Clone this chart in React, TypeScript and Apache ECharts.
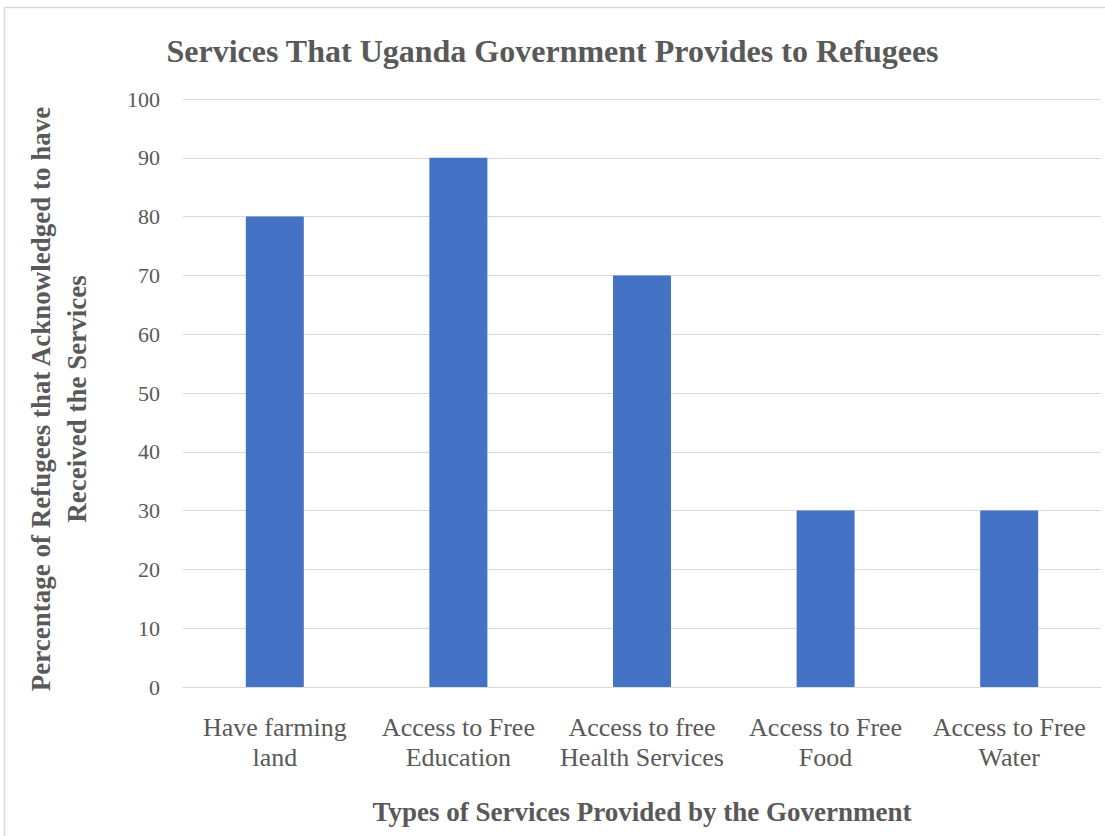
import React, { useEffect, useRef } from "react";
import * as echarts from "echarts";

const categories = [
  "Have farming\nland",
  "Access to Free\nEducation",
  "Access to free\nHealth Services",
  "Access to Free\nFood",
  "Access to Free\nWater",
];
const values = [80, 90, 70, 30, 30];
const yTicks = { min: 0, max: 100, interval: 10 };
const titleText = "Services That Uganda Government Provides to Refugees";
const xTitle = "Types of Services Provided by the Government";
const yTitle = "Percentage of Refugees that Acknowledged to have\nReceived the Services";

const SERIF = "Liberation Serif";

export default function App() {
  const ref = useRef<HTMLDivElement>(null);
  useEffect(() => {
    if (!ref.current) return;
    const chart = echarts.init(ref.current, null, { renderer: "svg" });
    chart.setOption({
      animation: false,
      backgroundColor: "#ffffff",
      title: {
        text: titleText,
        left: "center",
        top: 30,
        textStyle: {
          fontFamily: SERIF,
          fontWeight: "bold",
          fontSize: 32,
          color: "#595959",
        },
      },
      grid: { left: 183, right: 4, top: 99, bottom: 149, containLabel: false },
      xAxis: {
        type: "category",
        data: categories,
        name: xTitle,
        nameLocation: "middle",
        nameGap: 111,
        nameTextStyle: {
          fontFamily: SERIF,
          fontWeight: "bold",
          fontSize: 27,
          color: "#595959",
          verticalAlign: "top",
        },
        axisLine: { show: true, lineStyle: { color: "#d9d9d9", width: 1 } },
        axisTick: { show: false },
        axisLabel: {
          interval: 0,
          margin: 25,
          fontFamily: SERIF,
          fontSize: 26,
          lineHeight: 30,
          color: "#595959",
        },
      },
      yAxis: {
        type: "value",
        min: yTicks.min,
        max: yTicks.max,
        interval: yTicks.interval,
        axisLine: { show: false },
        axisTick: { show: false },
        splitLine: { lineStyle: { color: "#d9d9d9", width: 1 } },
        axisLabel: {
          margin: 23,
          fontFamily: SERIF,
          fontSize: 22,
          color: "#595959",
        },
      },
      graphic: [
        {
          type: "rect",
          shape: { x: 4.5, y: 7.5, width: 1110, height: 840 },
          style: { fill: "none", stroke: "#d9d9d9", lineWidth: 1.5 },
          silent: true,
        },
        {
          type: "text",
          x: 59,
          y: 399,
          rotation: Math.PI / 2,
          style: {
            text: yTitle,
            fontFamily: SERIF,
            fontWeight: "bold",
            fontSize: 27,
            lineHeight: 36,
            fill: "#595959",
            textAlign: "center",
            textVerticalAlign: "middle",
          },
        },
      ],
      series: [
        {
          type: "bar",
          data: values,
          barWidth: 58,
          itemStyle: { color: "#4472c4" },
        },
      ],
    });
    return () => chart.dispose();
  }, []);
  return (
    <div
      ref={ref}
      style={{ position: "absolute", left: 0, top: 0, width: 1105, height: 836 }}
    />
  );
}
